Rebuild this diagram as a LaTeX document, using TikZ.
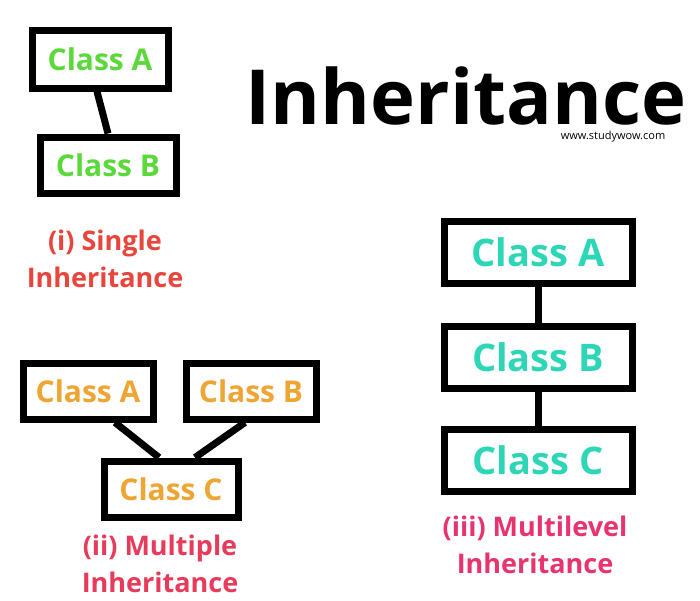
\documentclass[tikz,border=0pt]{standalone}
\usepackage{fontspec}
\setmainfont{Open Sans}
\definecolor{cgreen}{HTML}{5BD93B}
\definecolor{corange}{HTML}{EFA534}
\definecolor{cteal}{HTML}{2ED6B8}
\definecolor{cred1}{HTML}{E8453C}
\definecolor{cred2}{HTML}{E83A5A}
\definecolor{cred3}{HTML}{E8336E}
\begin{document}
\begin{tikzpicture}[x=1pt,y=-1pt,
  cbox/.style={draw=black,line width=7pt,inner sep=0pt},
  conn/.style={line width=7pt},
  lbl/.style={align=center,font=\bfseries\fontsize{27}{37}\selectfont}]
\useasboundingbox (0,0) rectangle (700,600);
% single
\node[cbox,minimum width=136pt,minimum height=58pt,text=cgreen,font=\bfseries\fontsize{30}{30}\selectfont] (sa) at (100,59) {Class A};
\node[cbox,minimum width=136pt,minimum height=56pt,text=cgreen,font=\bfseries\fontsize{30}{30}\selectfont] (sb) at (108,165) {Class B};
\draw[conn] (sa.south) ++(-3,0) coordinate (s1) -- (sb.north) coordinate (s2);
\node[lbl,text=cred1] (l1) at (105,259) {(i) Single\\Inheritance};
% title
\node[inner sep=0pt,anchor=base,font=\bfseries\fontsize{76}{76}\selectfont] (title) at (466,124) {Inheritance};
\node[inner sep=0pt,anchor=base,font=\fontsize{11}{11}\selectfont] (www) at (613,139) {www.studywow.com};
% multiple
\node[cbox,minimum width=130pt,minimum height=56pt,text=corange,font=\bfseries\fontsize{30}{30}\selectfont] (ma) at (88,391) {Class A};
\node[cbox,minimum width=130pt,minimum height=56pt,text=corange,font=\bfseries\fontsize{30}{30}\selectfont] (mb) at (251,391) {Class B};
\node[cbox,minimum width=134pt,minimum height=56pt,text=corange,font=\bfseries\fontsize{30}{30}\selectfont] (mc) at (171,489) {Class C};
\draw[conn] ([xshift=27pt]ma.south) -- ([xshift=-12pt]mc.north);
\draw[conn] ([xshift=-6pt]mb.south) -- ([xshift=24pt]mc.north);
\node[lbl,text=cred2] (l2) at (160,564) {(ii) Multiple\\Inheritance};
% multilevel
\node[cbox,minimum width=188pt,minimum height=62pt,text=cteal,font=\bfseries\fontsize{38}{38}\selectfont] (na) at (538,252) {Class A};
\node[cbox,minimum width=188pt,minimum height=62pt,text=cteal,font=\bfseries\fontsize{38}{38}\selectfont] (nb) at (538,357) {Class B};
\node[cbox,minimum width=188pt,minimum height=62pt,text=cteal,font=\bfseries\fontsize{38}{38}\selectfont] (nc) at (538,460) {Class C};
\draw[conn] (na) -- (nb);
\draw[conn] (nb) -- (nc);
\node[lbl,text=cred3] (l3) at (535,545) {(iii) Multilevel\\Inheritance};
\end{tikzpicture}
\end{document}
